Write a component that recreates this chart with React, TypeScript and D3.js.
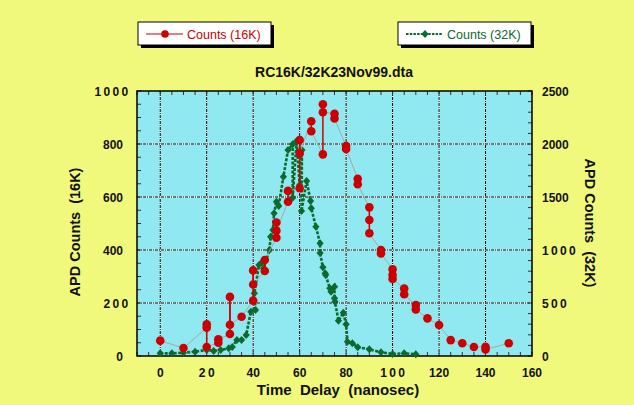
import { useEffect, useRef } from "react"
import * as d3 from "d3"

// 16K counts (left axis); sequence of points, same-x runs are repeat readings
const redX = [0, 10, 20, 20, 20, 25, 25, 30, 30, 30, 35, 40, 40, 40, 45, 45, 50, 50, 50, 55, 55, 60, 60, 60, 65, 65, 70, 70, 70, 75, 75, 80, 80, 85, 85, 90, 90, 90, 95, 95, 100, 100, 100, 105, 105, 110, 110, 115, 120, 125, 130, 135, 140, 140, 150]
const redY = [58, 30, 107, 120, 34, 50, 63, 83, 223, 118, 148, 209, 323, 270, 321, 362, 446, 504, 473, 582, 623, 633, 815, 765, 886, 848, 761, 950, 920, 914, 896, 792, 781, 669, 648, 561, 513, 463, 400, 387, 327, 306, 291, 255, 233, 192, 176, 142, 117, 60, 48, 34, 35, 25, 48]

// 32K counts (right axis)
const greenX = [0, 5, 10, 15, 20, 23, 26, 29.5, 31, 33, 35, 37, 39, 41, 40.5, 42.5, 44, 44.5, 47, 47.5, 48.5, 49, 50, 51, 53, 55, 57, 57, 58.7, 60, 61, 60.8, 63, 64.7, 65, 67, 68.8, 68.8, 70, 71, 71.2, 73, 73.5, 75, 75, 75.2, 76.7, 78.8, 80, 80.6, 82.7, 85, 90, 95, 100, 105, 110]
const greenY = [25, 25, 31, 41, 57, 47, 57, 72, 85, 151, 151, 198, 418, 434, 591, 858, 890, 827, 1000, 1125, 1189, 1346, 1456, 1415, 1692, 1943, 1997, 1493, 2028, 1613, 1943, 1368, 1651, 1462, 1393, 1220, 1063, 972, 837, 780, 764, 639, 607, 654, 544, 512, 333, 408, 299, 135, 120, 82, 63, 35, 19, 25, 16]

const xTicks = [0, 20, 40, 60, 80, 100, 120, 140, 160]
const leftTicks = [0, 200, 400, 600, 800, 1000]
const rightTicks = [0, 500, 1000, 1500, 2000, 2500]
const spacedLabels = { x: [20, 100], left: [200, 1000], right: [500, 1000] }

const W = 634
const H = 405
const BG = "#f0f97c"
const PLOT_BG = "#90e8f0"
const RED = "#cc0000"
const GREEN = "#0b6a2c"
const FONT = "Liberation Sans, Arial, sans-serif"

export default function App() {
  const svgRef = useRef<SVGSVGElement>(null)

  useEffect(() => {
    if (!svgRef.current) return
    const svg = d3.select(svgRef.current)
    svg.selectAll("*").remove()

    const left = 137, right = 532, top = 91, bottom = 356
    const x = d3.scaleLinear().domain([-10, 160]).range([left, right])
    const yL = d3.scaleLinear().domain([0, 1000]).range([bottom, top])
    const yR = d3.scaleLinear().domain([0, 2500]).range([bottom, top])

    svg.append("rect").attr("width", W).attr("height", H).attr("fill", BG)
    svg.append("rect")
      .attr("x", left).attr("y", top)
      .attr("width", right - left).attr("height", bottom - top)
      .attr("fill", PLOT_BG)

    // grid
    const grid = svg.append("g")
    const gx = xTicks.filter((d) => d < 160)
    const gy = leftTicks.filter((d) => d > 0 && d < 1000)
    gx.forEach((d) => {
      grid.append("line").attr("x1", x(d)).attr("x2", x(d)).attr("y1", top).attr("y2", bottom)
        .attr("stroke", "white").attr("stroke-width", 1)
      grid.append("line").attr("x1", x(d)).attr("x2", x(d)).attr("y1", top).attr("y2", bottom)
        .attr("stroke", "black").attr("stroke-width", 1).attr("stroke-dasharray", "3,1,1,1")
    })
    gy.forEach((d) => {
      grid.append("line").attr("x1", left).attr("x2", right).attr("y1", yL(d)).attr("y2", yL(d))
        .attr("stroke", "white").attr("stroke-width", 1)
      grid.append("line").attr("x1", left).attr("x2", right).attr("y1", yL(d)).attr("y2", yL(d))
        .attr("stroke", "black").attr("stroke-width", 1).attr("stroke-dasharray", "3,1,1,1")
    })

    // inward ticks
    const ticks = svg.append("g").attr("stroke", "#333").attr("stroke-width", 1)
    d3.range(-10, 161, 5).forEach((d) => {
      ticks.append("line").attr("x1", x(d)).attr("x2", x(d)).attr("y1", bottom).attr("y2", bottom - 4)
      ticks.append("line").attr("x1", x(d)).attr("x2", x(d)).attr("y1", top).attr("y2", top + 4)
    })
    d3.range(0, 1001, 50).forEach((d) => {
      ticks.append("line").attr("x1", left).attr("x2", left + 4).attr("y1", yL(d)).attr("y2", yL(d))
    })
    d3.range(0, 2501, 100).forEach((d) => {
      ticks.append("line").attr("x1", right).attr("x2", right - 4).attr("y1", yR(d)).attr("y2", yR(d))
    })

    svg.append("rect")
      .attr("x", left).attr("y", top)
      .attr("width", right - left).attr("height", bottom - top)
      .attr("fill", "none").attr("stroke", "black").attr("stroke-width", 1.5)

    // tick labels
    const lab = svg.append("g")
      .style("font-family", FONT).style("font-size", "12px").style("font-weight", "bold").attr("fill", "#111")
    xTicks.forEach((d) => {
      const sp = spacedLabels.x.includes(d)
      lab.append("text").attr("x", x(d) + (sp ? 1.2 : 0)).attr("y", 377)
        .attr("text-anchor", "middle").style("letter-spacing", sp ? "2.4px" : "0px").text(d)
    })
    leftTicks.forEach((d) => {
      const sp = spacedLabels.left.includes(d)
      lab.append("text").attr("x", sp ? 130.5 : 123).attr("y", yL(d) + 4.5)
        .attr("text-anchor", "end").style("letter-spacing", sp ? "2.3px" : "0px").text(d)
    })
    rightTicks.forEach((d) => {
      const sp = spacedLabels.right.includes(d)
      lab.append("text").attr("x", 542).attr("y", yR(d) + 4.5)
        .attr("text-anchor", "start").style("letter-spacing", sp ? "2.3px" : "0px").text(d)
    })

    // titles
    const titles = svg.append("g").style("font-family", FONT).style("font-weight", "bold").attr("fill", "#111")
    titles.append("text").attr("x", 334).attr("y", 77).attr("text-anchor", "middle")
      .style("font-size", "14px").text("RC16K/32K23Nov99.dta")
    titles.append("text").attr("x", 338).attr("y", 395).attr("text-anchor", "middle")
      .style("font-size", "15px").style("white-space", "pre")
      .text("Time  Delay  (nanosec)")
    titles.append("text").attr("transform", "translate(80,232) rotate(-90)").attr("text-anchor", "middle")
      .style("font-size", "14.5px").style("white-space", "pre").text("APD Counts  (16K)")
    titles.append("text").attr("transform", "translate(585,223) rotate(90)").attr("text-anchor", "middle")
      .style("font-size", "14.5px").style("white-space", "pre").text("APD Counts  (32K)")

    const plot = svg.append("g")

    // green series
    const greenPts = greenX.map((d, i) => [x(d), yR(greenY[i])] as [number, number])
    plot.append("path")
      .attr("d", d3.line()(greenPts) as string)
      .attr("fill", "none").attr("stroke", GREEN).attr("stroke-width", 2.6)
      .attr("stroke-dasharray", "3,1.5")
    const diamond = (cx: number, cy: number) =>
      `M${cx},${cy - 4}L${cx + 3.6},${cy}L${cx},${cy + 4}L${cx - 3.6},${cy}Z`
    plot.append("g").selectAll("path").data(greenPts).enter().append("path")
      .attr("d", (d) => diamond(d[0], d[1])).attr("fill", GREEN)

    // red series: gray joins between x positions, red between repeat readings
    const redPts = redX.map((d, i) => [x(d), yL(redY[i])] as [number, number])
    for (let i = 1; i < redPts.length; i++) {
      const same = redX[i] === redX[i - 1]
      plot.append("line")
        .attr("x1", redPts[i - 1][0]).attr("y1", redPts[i - 1][1])
        .attr("x2", redPts[i][0]).attr("y2", redPts[i][1])
        .attr("stroke", same ? RED : "#a8a8a8").attr("stroke-width", same ? 1.5 : 1)
    }
    plot.append("g").selectAll("circle").data(redPts).enter().append("circle")
      .attr("cx", (d) => d[0]).attr("cy", (d) => d[1]).attr("r", 4.3).attr("fill", RED)

    // legends
    const legend = (bx: number, color: string, label: string, green: boolean) => {
      const g = svg.append("g")
      g.append("rect").attr("x", bx + 3).attr("y", 25).attr("width", 133).attr("height", 23).attr("fill", "black")
      g.append("rect").attr("x", bx).attr("y", 22).attr("width", 133).attr("height", 23)
        .attr("fill", "white").attr("stroke", "black").attr("stroke-width", 1)
      const ly = 34
      g.append("line").attr("x1", bx + 8).attr("x2", bx + 45).attr("y1", ly).attr("y2", ly)
        .attr("stroke", color).attr("stroke-width", green ? 2 : 1.2)
        .attr("stroke-dasharray", green ? "2.5,1.2" : null)
      if (green) g.append("path").attr("d", diamond(bx + 27, ly)).attr("fill", color)
      else g.append("circle").attr("cx", bx + 27).attr("cy", ly).attr("r", 3.8).attr("fill", color)
      g.append("text").attr("x", bx + 49).attr("y", ly + 4.5).attr("fill", color)
        .style("font-family", FONT).style("font-size", "12.5px").text(label)
    }
    legend(138, RED, "Counts (16K)", false)
    legend(398, GREEN, "Counts (32K)", true)
  }, [])

  return (
    <svg
      ref={svgRef}
      width={W}
      height={H}
      style={{ position: "absolute", left: 0, top: 0, display: "block" }}
    />
  )
}
